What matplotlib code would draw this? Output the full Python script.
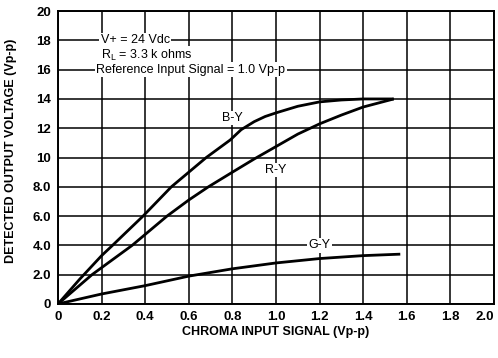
import matplotlib
matplotlib.use("Agg")
import matplotlib.pyplot as plt

plt.rcParams['font.family'] = ['Liberation Sans', 'DejaVu Sans']

# curves
by_x = [0, 0.1, 0.2, 0.25, 0.39, 0.52, 0.68, 0.79, 0.84, 0.9, 0.95, 1.0, 1.1, 1.2, 1.3, 1.4, 1.54]
by_y = [0, 1.7, 3.3, 4.0, 6.0, 8.0, 10.0, 11.2, 11.9, 12.45, 12.8, 13.05, 13.5, 13.8, 13.93, 14.0, 14.0]

ry_x = [0, 0.156, 0.34, 0.5, 0.6, 0.69, 0.8, 0.9, 1.0, 1.1, 1.2, 1.3, 1.4, 1.54]
ry_y = [0, 2.0, 4.0, 6.0, 7.1, 8.0, 9.0, 9.9, 10.75, 11.6, 12.3, 12.9, 13.45, 14.0]

gy_x = [0, 0.2, 0.4, 0.6, 0.8, 1.0, 1.2, 1.4, 1.57]
gy_y = [0, 0.68, 1.25, 1.9, 2.4, 2.8, 3.1, 3.3, 3.4]

x_ticks = [0, 0.2, 0.4, 0.6, 0.8, 1.0, 1.2, 1.4, 1.6, 1.8, 2.0]
x_labels = ['0', '0.2', '0.4', '0.6', '0.8', '1.0', '1.2', '1.4', '1.6', '1.8', '2.0']
y_ticks = [0, 2, 4, 6, 8, 10, 12, 14, 16, 18, 20]
y_labels = ['0', '2.0', '4.0', '6.0', '8.0', '10', '12', '14', '16', '18', '20']

fig = plt.figure(figsize=(4.98, 3.58), dpi=100)
ax = fig.add_axes([0.1165, 0.151, 0.8755, 0.818])

ax.set_xlim(0, 2.0)
ax.set_ylim(0, 20)
ax.set_xticks(x_ticks)
ax.set_xticklabels(x_labels)
ax.set_yticks(y_ticks)
ax.set_yticklabels(y_labels)
ax.tick_params(length=0, labelsize=9.5)
ax.tick_params(axis='x', pad=5)
ax.tick_params(axis='y', pad=5)
for lab in ax.get_xticklabels() + ax.get_yticklabels():
    lab.set_fontweight('bold')
# last x label sits left of the frame edge, as in the original
ax.get_xticklabels()[-1].set_horizontalalignment('right')

ax.grid(True, color='black', linewidth=1.1)
for s in ax.spines.values():
    s.set_linewidth(1.4)

for xs, ys in [(by_x, by_y), (ry_x, ry_y), (gy_x, gy_y)]:
    ax.plot(xs, ys, color='black', linewidth=2.0, zorder=3, solid_capstyle='butt',
            solid_joinstyle='round')

box = dict(facecolor='white', edgecolor='none', pad=1.0)
ax.text(0.8, 12.7, 'B-Y', ha='center', va='center', fontsize=9, bbox=box, zorder=4)
ax.text(1.0, 9.15, 'R-Y', ha='center', va='center', fontsize=9, bbox=box, zorder=4)
ax.text(1.2, 4.0, 'G-Y', ha='center', va='center', fontsize=9, bbox=box, zorder=4)

ax.text(0.195, 18.0, 'V+ = 24 Vdc', ha='left', va='center', fontsize=9, bbox=box, zorder=4)
ax.text(0.195, 17.0, r'R$_\mathregular{L}$ = 3.3 k ohms', ha='left', va='center', fontsize=9,
        bbox=box, zorder=4)
ax.text(0.175, 16.0, 'Reference Input Signal = 1.0 Vp-p', ha='left', va='center', fontsize=9,
        bbox=box, zorder=4)

fig.text(0.553, 0.073, 'CHROMA INPUT SIGNAL (Vp-p)', ha='center', va='center',
         fontsize=9, fontweight='bold')
fig.text(0.022, 0.58, 'DETECTED OUTPUT VOLTAGE (Vp-p)', ha='center', va='center',
         rotation=90, fontsize=9, fontweight='bold')

fig.savefig('out.png', dpi=100)
